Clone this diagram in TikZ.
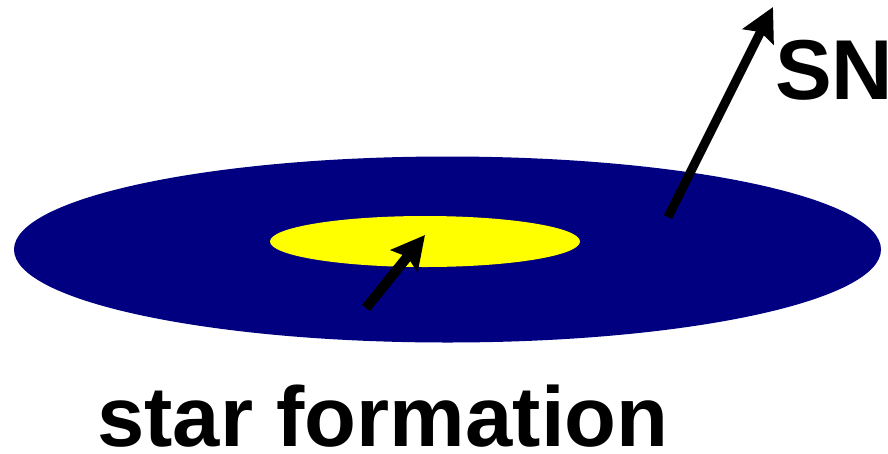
\documentclass[tikz,border=0pt]{standalone}
\usepackage{fontspec}
\setmainfont{Liberation Sans}
\usetikzlibrary{arrows.meta}
\definecolor{disk}{RGB}{0,0,128}
\definecolor{core}{RGB}{255,255,0}
\tikzset{
  flow/.style={line width=#1, -{Stealth[length=33pt,width=34pt,inset=5pt]}},
  lbl/.style={font=\fontsize{85}{85}\selectfont\bfseries, inner sep=0pt}
}
\begin{document}
\begin{tikzpicture}[x=1pt,y=-1pt]
\useasboundingbox (0,0) rectangle (888,453);
\fill[disk] (447.5,249.5) ellipse [x radius=433.5, y radius=93];
\fill[core] (425,241.5) ellipse [x radius=155, y radius=25.5];
\coordinate (a1) at (366,308);
\coordinate (a1t) at (425,235);
\coordinate (a2) at (668,217);
\coordinate (a2t) at (773,7);
\draw[flow=10pt] (a1) -- (a1t);
\draw[flow=9pt] (a2) -- (a2t);
\node[lbl, anchor=base west] (sn) at (775,99) {SN};
\node[lbl, anchor=base west] (sf) at (97,446) {star formation};
\end{tikzpicture}
\end{document}
